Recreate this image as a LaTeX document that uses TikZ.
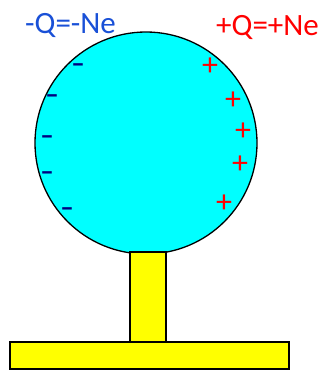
\documentclass[tikz,border=0pt]{standalone}
\usepackage{fontspec}
\setmainfont{Carlito}
\usetikzlibrary{positioning}
\definecolor{qblue}{RGB}{25,80,215}
\definecolor{minusblue}{RGB}{0,0,128}
\definecolor{ballcyan}{RGB}{0,255,255}
\definecolor{metalyellow}{RGB}{255,255,0}
\tikzset{
    base/.style = {draw=black, line width=1.3pt},
    % Components
    ball/.style   = {base, circle, fill=ballcyan, inner sep=0pt},
    metal/.style  = {base, fill=metalyellow},
    qlabel/.style = {font=\fontsize{31}{32}\selectfont, inner sep=0pt, anchor=base west},
    % Charges
    plus/.style   = {text=red, font=\fontsize{32}{32}\selectfont, inner sep=0pt},
    minus/.style  = {text=minusblue, font=\bfseries\fontsize{27}{27}\selectfont, inner sep=0pt}
}

\begin{document}
\begin{tikzpicture}[x=1pt, y=-1pt]
    \useasboundingbox (0,0) rectangle (322,370);

    \node (sphere) [ball, minimum size=222pt] at (146,143) {};
    \draw [metal] (130,252) rectangle (166,342);
    \draw [metal] (10,342) rectangle (289,369);

    \node (qneg) [qlabel, text=qblue] at (25,33) {-Q=-Ne};
    \node (qpos) [qlabel, text=red] at (216,35) {+Q=+Ne};

    % Charges on the sphere
    \foreach \i/\x/\y in {1/78/68, 2/52/99, 3/47/140, 4/47/176, 5/67/212}
        \node (m\i) [minus] at (\x,\y) {–};
    \foreach \i/\x/\y in {1/210/67, 2/233/101, 3/243/132, 4/240/165, 5/224/204}
        \node (p\i) [plus] at (\x,\y) {+};
\end{tikzpicture}
\end{document}
